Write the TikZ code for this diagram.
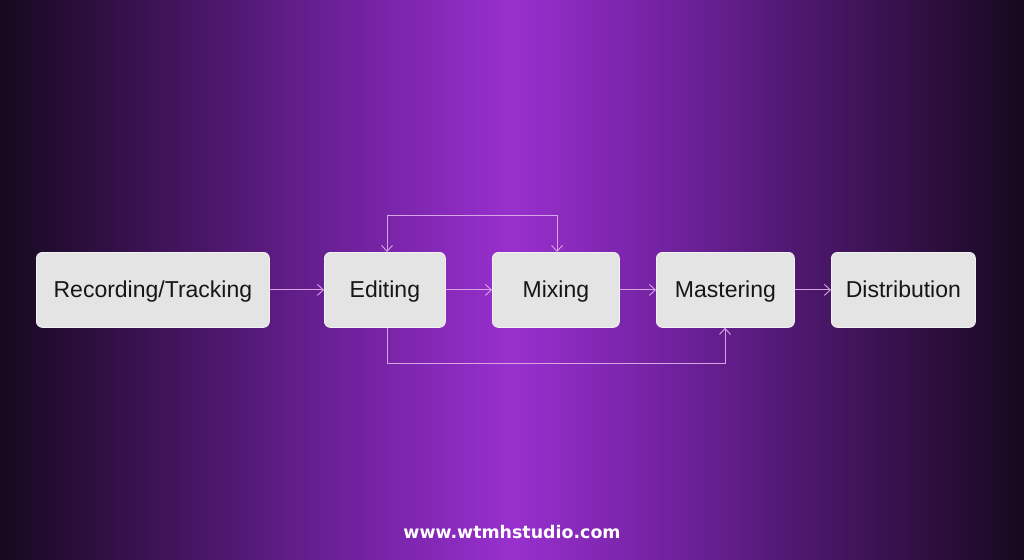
\documentclass[tikz,border=0pt]{standalone}
\usepackage{fontspec}
\setmainfont{Liberation Sans}
\newfontfamily\footfont{DejaVu Sans}
\usetikzlibrary{arrows.meta,positioning}
\definecolor{bgedge}{RGB}{22,9,30}
\definecolor{bgA}{RGB}{42,14,58}
\definecolor{bgB}{RGB}{72,22,102}
\definecolor{bgC}{RGB}{106,32,150}
\definecolor{bgD}{RGB}{132,40,182}
\definecolor{bgmid}{RGB}{152,48,206}
\definecolor{boxfill}{RGB}{228,228,228}
\definecolor{boxline}{RGB}{242,242,242}
\definecolor{linkcol}{RGB}{215,165,228}
\definecolor{txt}{RGB}{22,22,22}
\pgfdeclarehorizontalshading{bgshade}{100bp}{%
 color(0bp)=(bgedge); color(25bp)=(bgedge); color(28.9bp)=(bgA);
 color(34.8bp)=(bgB); color(41.1bp)=(bgC); color(46bp)=(bgD);
 color(50bp)=(bgmid); color(54bp)=(bgD); color(58.9bp)=(bgC);
 color(65.2bp)=(bgB); color(71.1bp)=(bgA); color(75bp)=(bgedge); color(100bp)=(bgedge)}
\tikzset{
  stage/.style={draw=boxline, line width=0.8pt, fill=boxfill, rounded corners=6pt,
    text=txt, font=\fontsize{23}{27}\selectfont, inner sep=0pt, anchor=north west,
    text height=18.5pt, text depth=3pt},
  link/.style={draw=linkcol, line width=0.9pt, -{Straight Barb[length=6pt,width=11pt]}},
}
\begin{document}
\begin{tikzpicture}[x=1pt,y=-1pt]
\useasboundingbox (0,0) rectangle (1024,559);
\shade[shading=bgshade] (0,0) rectangle (1024,559);
\node[stage, minimum width=233pt, minimum height=75pt] (rec) at (36,252) {Recording/Tracking};
\node[stage, minimum width=121pt, minimum height=75pt] (edit) at (324,252) {Editing};
\node[stage, minimum width=127pt, minimum height=75pt] (mix) at (492,252) {Mixing};
\node[stage, minimum width=138pt, minimum height=75pt] (mast) at (656,252) {Mastering};
\node[stage, minimum width=144pt, minimum height=75pt] (dist) at (831,252) {Distribution};
\draw[link] (rec.east) -- (edit.west);
\draw[link] (edit.east) -- (mix.west);
\draw[link] (mix.east) -- (mast.west);
\draw[link] (mast.east) -- (dist.west);
\coordinate (tl) at (387,215);
\coordinate (tr) at (557,215);
\draw[link, {Straight Barb[length=6pt,width=11pt]}-{Straight Barb[length=6pt,width=11pt]}]
  (edit.north -| tl) -- (tl) -- (tr) -- (mix.north -| tr);
\coordinate (bl) at (387,363);
\coordinate (br) at (725,363);
\draw[link] (edit.south -| bl) -- (bl) -- (br) -- (mast.south -| br);
\node[text=white, font=\footfont\bfseries\fontsize{17.4}{20}\selectfont] (url) at (512,532) {www.wtmhstudio.com};
\end{tikzpicture}
\end{document}
